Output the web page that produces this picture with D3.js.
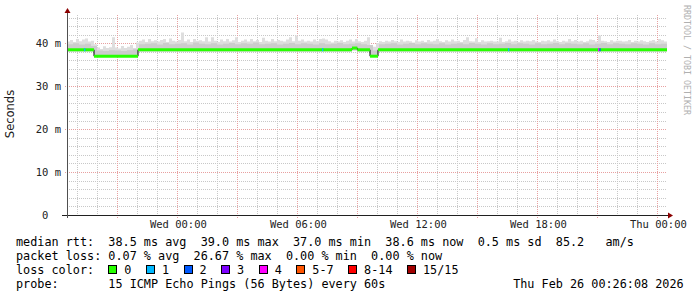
<!DOCTYPE html>
<html>
<head>
<meta charset="utf-8">
<script src="https://cdn.jsdelivr.net/npm/d3@7"></script>
<style>
html, body { margin: 0; padding: 0; background: #fff; }
svg { display: block; }
text { white-space: pre; }
</style>
</head>
<body>
<svg id="chart" width="697" height="297"></svg>
<script>
// time window of the graph (30 hours)
const startTime = new Date(2026, 1, 24, 18, 29);
const endTime = new Date(2026, 1, 26, 0, 29);

// highest ping per 9 minute bin (ms)
const binMinutes = 9;
const smokeMax = [
  40.4, 40.8, 40.3, 41.0, 40.5, 40.9, 41.1, 40.4, 40.6, 39.8,
  39.0, 38.7, 39.3, 38.9, 39.1, 41.4, 39.0, 38.8, 39.4, 38.9,
  39.2, 39.6, 38.9, 40.2, 40.6, 40.9, 40.3, 41.0, 40.5, 40.7,
  40.4, 40.8, 41.0, 40.3, 41.1, 40.6, 40.4, 40.8, 42.5, 40.5,
  40.9, 40.3, 41.0, 40.6, 40.7, 40.5, 41.4, 40.4, 41.4, 40.6,
  40.3, 40.9, 40.5, 41.0, 40.4, 40.7, 41.4, 40.3, 40.6, 40.9,
  40.4, 41.0, 40.5, 40.8, 40.3, 41.3, 40.6, 40.4, 41.0, 40.5,
  40.8, 40.6, 40.4, 40.9, 41.4, 40.5, 41.8, 40.6, 40.9, 40.4,
  40.6, 40.4, 40.9, 40.5, 41.0, 41.1, 40.9, 40.5, 40.2, 40.6,
  40.4, 40.7, 40.3, 40.6, 40.9, 40.4, 41.0, 40.5, 40.3, 40.6,
  41.4, 38.9, 39.2, 40.1, 40.5, 40.3, 40.6, 40.4, 40.8, 40.5,
  40.3, 40.9, 40.4, 40.6, 40.5, 40.2, 40.7, 40.4, 40.6, 40.3,
  40.8, 40.4, 40.6, 41.0, 40.5, 40.3, 40.7, 40.4, 40.9, 40.5,
  40.6, 40.3, 40.8, 41.4, 40.5, 40.4, 41.2, 40.3, 40.7, 40.4,
  40.5, 40.6, 40.4, 40.4, 41.3, 40.3, 40.5, 40.9, 40.4, 40.6,
  40.3, 40.7, 40.4, 40.6, 40.5, 40.8, 40.4, 40.3, 40.6, 40.5,
  40.7, 40.4, 40.9, 40.5, 40.3, 40.6, 40.4, 41.0, 40.5, 40.8,
  40.4, 40.6, 40.3, 40.5, 40.9, 40.8, 40.4, 41.8, 40.6, 40.5,
  40.3, 40.7, 40.4, 40.6, 40.6, 40.4, 40.5, 40.8, 40.3, 40.6,
  40.4, 40.7, 40.5, 40.3, 40.6, 40.8, 40.4, 41.0, 40.7, 40.4
];

// upper edge of the dense smoke per 18 minute bin (ms)
const coreMinutes = 18;
const smokeCore = [
  39.8, 40.0, 39.7, 39.9, 39.4, 38.3, 38.2, 38.4, 38.3, 38.2,
  38.4, 38.6, 39.8, 39.9, 40.0, 39.7, 40.1, 39.8, 39.9, 40.0,
  39.7, 40.2, 39.9, 39.8, 40.0, 39.7, 39.9, 40.1, 39.8, 40.0,
  39.9, 40.2, 39.8, 39.9, 40.0, 39.7, 39.9, 40.1, 39.8, 40.0,
  39.9, 39.7, 40.0, 39.8, 39.9, 40.1, 39.8, 39.9, 40.0, 39.8,
  39.6, 38.3, 39.8, 39.9, 40.0, 39.7, 39.9, 40.1, 39.8, 40.0,
  39.9, 39.8, 40.0, 39.7, 39.9, 40.0, 39.8, 40.1, 39.9, 39.7,
  40.0, 39.8, 39.9, 40.1, 39.8, 40.0, 39.9, 39.7, 40.0, 39.8,
  39.9, 40.1, 39.8, 40.0, 39.9, 39.8, 40.0, 39.7, 39.9, 40.1,
  39.8, 40.0, 39.9, 39.8, 40.0, 39.9, 39.7, 40.0, 39.8, 39.9
];

// median rtt as steps, and lowest ping for the same steps
const stepTimes = ["2026-02-24 18:29", "2026-02-24 19:50", "2026-02-24 22:02",
  "2026-02-25 08:44", "2026-02-25 09:00", "2026-02-25 09:38", "2026-02-25 10:02"];
const medianValues = [38.5, 37.0, 38.5, 38.9, 38.5, 37.0, 38.5];
const smokeLow = [38.1, 36.8, 38.1, 38.3, 38.1, 36.8, 38.1];

// samples with packet loss (lost pings out of 15)
const lossTimes = ["2026-02-24 19:20", "2026-02-25 07:14", "2026-02-25 16:32",
  "2026-02-25 21:02", "2026-02-25 21:06"];
const lossCounts = [1, 1, 1, 4, 2];

// legend
const lossLabels = ["0", "1", "2", "3", "4", "5-7", "8-14", "15/15"];
const lossColors = ["#26ff00", "#00b8ff", "#0059ff", "#7e00ff", "#ff00ff", "#ff5500", "#ff0000", "#a10000"];
const legendRows = [
  "median rtt:  38.5 ms avg  39.0 ms max  37.0 ms min  38.6 ms now  0.5 ms sd  85.2   am/s",
  "packet loss: 0.07 % avg  26.67 % max  0.00 % min  0.00 % now",
  "loss color:",
  "probe:       15 ICMP Echo Pings (56 Bytes) every 60s                  Thu Feb 26 00:26:08 2026"
];
const yTicks = [0, 10, 20, 30, 40];

const parse = d3.timeParse("%Y-%m-%d %H:%M");
const steps = stepTimes.map(parse);
const lossAt = lossTimes.map(parse);

const svg = d3.select("#chart");
const mono = "'DejaVu Sans Mono', monospace";
const plotLeft = 67, plotRight = 667, plotBottom = 215, plotTop = 15;

const x = d3.scaleTime().domain([startTime, endTime]).range([plotLeft, plotRight]);
const y = d3.scaleLinear().domain([0, 46.6]).range([plotBottom, plotTop]);

svg.append("rect").attr("width", 697).attr("height", 297).attr("fill", "#fff");

// minor grid
const snap = v => Math.round(v) + 0.5;
const minorY = d3.range(2, 47, 2).filter(v => v % 10 !== 0);
svg.append("g").selectAll("line").data(minorY).join("line")
  .attr("x1", plotLeft).attr("x2", plotRight)
  .attr("y1", d => snap(y(d))).attr("y2", d => snap(y(d)))
  .attr("stroke", "#c8c8c8").attr("stroke-dasharray", "1,1");
const minorX = x.ticks(d3.timeHour.every(1)).filter(d => d.getHours() % 3 !== 0);
svg.append("g").selectAll("line").data(minorX).join("line")
  .attr("x1", d => snap(x(d))).attr("x2", d => snap(x(d)))
  .attr("y1", plotTop).attr("y2", plotBottom)
  .attr("stroke", "#c8c8c8").attr("stroke-dasharray", "1,1");

// major grid
svg.append("g").selectAll("line").data(yTicks.slice(1)).join("line")
  .attr("x1", plotLeft - 2).attr("x2", plotRight)
  .attr("y1", d => snap(y(d))).attr("y2", d => snap(y(d)))
  .attr("stroke", "#e8a0a0").attr("stroke-dasharray", "1,1");
const majorX = x.ticks(d3.timeHour.every(3));
svg.append("g").selectAll("line").data(majorX).join("line")
  .attr("x1", d => snap(x(d))).attr("x2", d => snap(x(d)))
  .attr("y1", plotTop).attr("y2", plotBottom + 3)
  .attr("stroke", "#e8a0a0").attr("stroke-dasharray", "1,1");

// smoke: sample at every bin edge and step change
const stepValue = (times, vals, t) => vals[Math.max(0, d3.bisectRight(times, t) - 1)];
const maxTimes = smokeMax.map((v, i) => d3.timeMinute.offset(startTime, i * binMinutes));
const coreTimes = smokeCore.map((v, i) => d3.timeMinute.offset(startTime, i * coreMinutes));
const sampleTimes = Array.from(new Set(maxTimes.concat(coreTimes, steps, [endTime]).map(d => +d)))
  .sort((a, b) => a - b).map(d => new Date(d));
const samples = sampleTimes.map(t => ({
  t: t,
  lo: stepValue(steps, smokeLow, t),
  max: stepValue(maxTimes, smokeMax, t),
  core: stepValue(coreTimes, smokeCore, t)
}));

svg.append("path").datum(samples)
  .attr("fill", "#dedede")
  .attr("d", d3.area().curve(d3.curveStepAfter)
    .x(d => x(d.t)).y0(d => y(d.lo)).y1(d => y(d.max)));
svg.append("path").datum(samples)
  .attr("fill", "#cccccc")
  .attr("d", d3.area().curve(d3.curveStepAfter)
    .x(d => x(d.t)).y0(d => y(d.lo)).y1(d => y(d.core)));

// median line
const medianPts = steps.map((t, i) => ({ t: t, v: medianValues[i] }));
medianPts.push({ t: endTime, v: medianValues[medianValues.length - 1] });
svg.append("path").datum(medianPts)
  .attr("fill", "none").attr("stroke", "#000").attr("stroke-width", 1)
  .attr("d", d3.line().curve(d3.curveStepAfter).x(d => x(d.t)).y(d => y(d.v)));
svg.append("g").selectAll("line").data(medianPts.slice(0, -1)).join("line")
  .attr("x1", d => x(d.t)).attr("x2", (d, i) => x(medianPts[i + 1].t))
  .attr("y1", d => y(d.v)).attr("y2", d => y(d.v))
  .attr("stroke", lossColors[0]).attr("stroke-width", 3);

// loss coloured bits of the median
const lossIndex = c => c <= 4 ? c : (c <= 7 ? 5 : (c <= 14 ? 6 : 7));
svg.append("g").selectAll("line").data(lossAt).join("line")
  .attr("x1", d => x(d)).attr("x2", d => x(d3.timeMinute.offset(d, 4)))
  .attr("y1", d => y(stepValue(steps, medianValues, d)))
  .attr("y2", d => y(stepValue(steps, medianValues, d)))
  .attr("stroke", (d, i) => lossColors[lossIndex(lossCounts[i])]).attr("stroke-width", 3);

// axes
svg.append("line").attr("x1", plotLeft - 5).attr("x2", plotRight + 4)
  .attr("y1", plotBottom + 0.5).attr("y2", plotBottom + 0.5).attr("stroke", "#202020");
svg.append("line").attr("x1", plotLeft + 0.5).attr("x2", plotLeft + 0.5)
  .attr("y1", plotBottom + 3).attr("y2", plotTop - 4).attr("stroke", "#505050");
svg.append("path").attr("fill", "#8b0000")
  .attr("d", `M${plotLeft - 2.5},${plotTop - 2}L${plotLeft + 3.5},${plotTop - 2}L${plotLeft + 0.5},${plotTop - 7}Z`);
svg.append("path").attr("fill", "#8b0000")
  .attr("d", `M${plotRight + 1},${plotBottom - 2.5}L${plotRight + 1},${plotBottom + 3.5}L${plotRight + 6},${plotBottom + 0.5}Z`);

// tick labels
svg.append("g").selectAll("text").data(yTicks).join("text")
  .attr("x", 61).attr("y", d => y(d)).attr("dy", "0.36em")
  .attr("text-anchor", "end")
  .style("font-family", mono).style("font-size", "10.5px").attr("fill", "#222")
  .text(d => d === 0 ? "0  " : d + " m");
svg.append("g").selectAll("text").data(x.ticks(d3.timeHour.every(6))).join("text")
  .attr("x", d => x(d) + 1).attr("y", 228)
  .attr("text-anchor", "middle")
  .style("font-family", mono).style("font-size", "10.5px").attr("fill", "#222")
  .text(d3.timeFormat("%a %H:%M"));

// vertical label and watermark
svg.append("text").attr("transform", "translate(14,114) rotate(-90)")
  .attr("text-anchor", "middle")
  .style("font-family", "'DejaVu Sans', sans-serif").style("font-size", "11.5px").attr("fill", "#222")
  .text("Seconds");
svg.append("text").attr("transform", "translate(684,5) rotate(90)")
  .style("font-family", mono).style("font-size", "8.3px").attr("fill", "#b0b0b0")
  .text("RRDTOOL / TOBI OETIKER");

// legend text
const charW = 7.1;
svg.append("g").selectAll("text").data(legendRows).join("text")
  .attr("x", 16).attr("y", (d, i) => 245.8 + i * 13.9)
  .style("font-family", mono).style("font-size", "11.8px").attr("fill", "#000")
  .text(d => d);

// loss color boxes
let bx = 16 + 13 * charW;
const boxes = lossLabels.map((lab, i) => {
  const item = { label: lab, color: lossColors[i], x: bx };
  bx = bx + 16 + lab.length * charW + 14.5;
  return item;
});
const legendBox = svg.append("g").selectAll("g").data(boxes).join("g");
legendBox.append("rect")
  .attr("x", d => Math.round(d.x) + 0.5).attr("y", 265.5).attr("width", 8).attr("height", 8)
  .attr("fill", d => d.color).attr("stroke", "#000");
legendBox.append("text")
  .attr("x", d => d.x + 16).attr("y", 273.7)
  .style("font-family", mono).style("font-size", "11.8px").attr("fill", "#000")
  .text(d => d.label);
</script>
</body>
</html>
